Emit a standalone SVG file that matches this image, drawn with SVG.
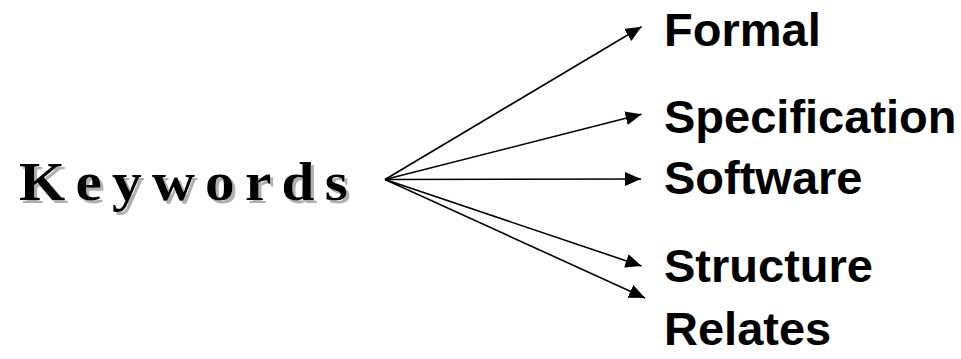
<svg xmlns="http://www.w3.org/2000/svg" width="961" height="359" viewBox="0 0 961 359">
<defs>
<style>
.lbl{font-family:"Liberation Sans",Arial,sans-serif;font-weight:bold;font-size:47px;fill:#000}
.kw{font-family:"Liberation Serif","Times New Roman",serif;font-weight:bold;font-size:54px;letter-spacing:9.3px;fill:#000}
.conn{stroke:#000;stroke-width:1.6;fill:none;marker-end:url(#ah)}
</style>
<filter id="shadow" x="-5%" y="-20%" width="115%" height="150%">
<feOffset in="SourceAlpha" dx="3" dy="3" result="off"/>
<feFlood flood-color="#b0b0b0"/>
<feComposite in2="off" operator="in" result="sh"/>
<feMerge><feMergeNode in="sh"/><feMergeNode in="SourceGraphic"/></feMerge>
</filter>
<marker id="ah" markerUnits="userSpaceOnUse" markerWidth="17" markerHeight="14" refX="16" refY="7" orient="auto">
<path d="M0,0 L16,7 L0,14 z" fill="#000"/>
</marker>
</defs>
<rect width="961" height="359" fill="#fff"/>
<g id="keywords" filter="url(#shadow)">
<text class="kw" transform="translate(19,200) scale(1.1,1)">Keywords</text>
</g>
<g id="connectors">
<line class="conn" x1="385" y1="179.5" x2="641.5" y2="26.7"/>
<line class="conn" x1="385" y1="179.5" x2="641.5" y2="114.3"/>
<line class="conn" x1="385" y1="179.5" x2="641" y2="179"/>
<line class="conn" x1="385" y1="179.5" x2="641.5" y2="266"/>
<line class="conn" x1="385" y1="179.5" x2="645" y2="298"/>
</g>
<g id="formal"><text class="lbl" x="664" y="46">Formal</text></g>
<g id="specification"><text class="lbl" x="664" y="133">Specification</text></g>
<g id="software"><text class="lbl" x="664" y="194">Software</text></g>
<g id="structure"><text class="lbl" x="664" y="282">Structure</text></g>
<g id="relates"><text class="lbl" x="664" y="345">Relates</text></g>
</svg>
